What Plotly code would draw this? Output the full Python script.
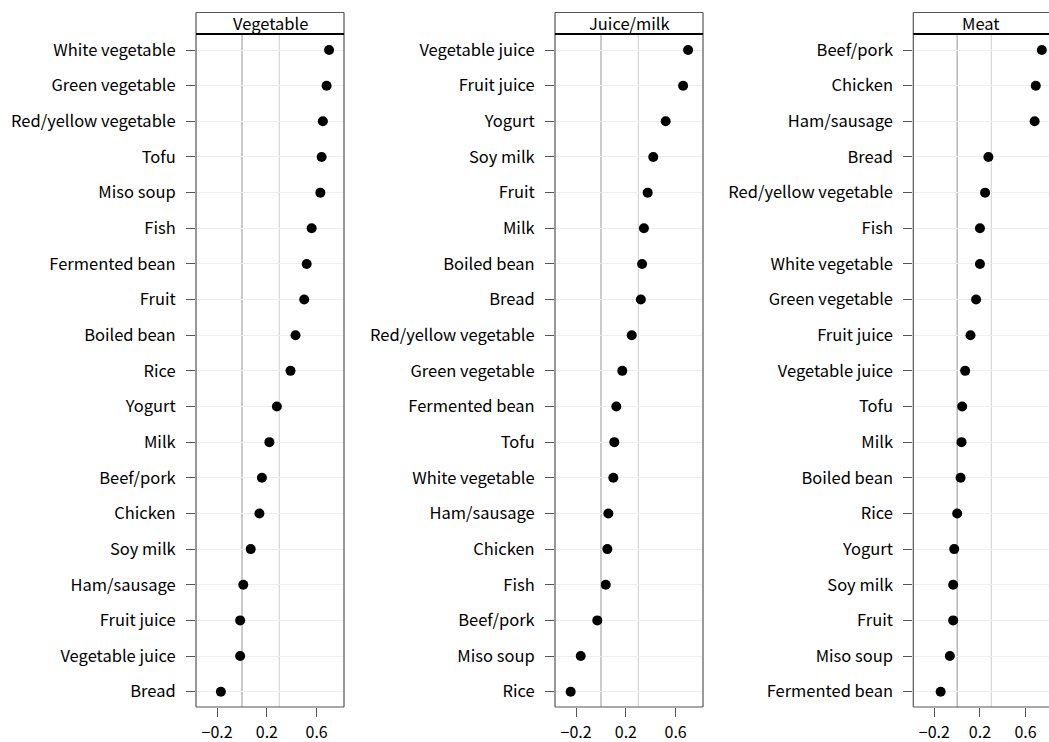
import plotly.graph_objects as go

# ---- data ----
veg_foods = ["White vegetable", "Green vegetable", "Red/yellow vegetable", "Tofu", "Miso soup",
             "Fish", "Fermented bean", "Fruit", "Boiled bean", "Rice", "Yogurt", "Milk",
             "Beef/pork", "Chicken", "Soy milk", "Ham/sausage", "Fruit juice",
             "Vegetable juice", "Bread"]
veg_values = [0.70, 0.68, 0.65, 0.64, 0.63, 0.56, 0.52, 0.50, 0.43, 0.39, 0.28, 0.22,
              0.16, 0.14, 0.07, 0.01, -0.015, -0.015, -0.17]

juice_foods = ["Vegetable juice", "Fruit juice", "Yogurt", "Soy milk", "Fruit", "Milk",
               "Boiled bean", "Bread", "Red/yellow vegetable", "Green vegetable",
               "Fermented bean", "Tofu", "White vegetable", "Ham/sausage", "Chicken",
               "Fish", "Beef/pork", "Miso soup", "Rice"]
juice_values = [0.70, 0.66, 0.52, 0.42, 0.375, 0.345, 0.33, 0.32, 0.247, 0.171,
                0.123, 0.107, 0.099, 0.059, 0.051, 0.038, -0.03, -0.163, -0.244]

meat_foods = ["Beef/pork", "Chicken", "Ham/sausage", "Bread", "Red/yellow vegetable",
              "Fish", "White vegetable", "Green vegetable", "Fruit juice",
              "Vegetable juice", "Tofu", "Milk", "Boiled bean", "Rice", "Yogurt",
              "Soy milk", "Fruit", "Miso soup", "Fermented bean"]
meat_values = [0.743, 0.69, 0.68, 0.274, 0.245, 0.20, 0.20, 0.166, 0.117, 0.07,
               0.044, 0.038, 0.03, 0.0, -0.026, -0.035, -0.035, -0.064, -0.145]

panel_titles = ["Vegetable", "Juice/milk", "Meat"]
x_tick_vals = [-0.2, 0.2, 0.6]
x_tick_text = ["\u22120.2", "0.2", "0.6"]
ref_lines = [0.0, 0.3]

panels = [(panel_titles[0], veg_foods, veg_values),
          (panel_titles[1], juice_foods, juice_values),
          (panel_titles[2], meat_foods, meat_values)]

# ---- layout ----
W, H = 1049, 742
domains = [(196 / W, 344 / W), (555 / W, 703 / W), (913.3 / W, 1.0)]
xranges = [[-0.37, 0.82], [-0.37, 0.82], [-0.385, 0.806]]
FONT = "Noto Sans CJK JP"
frame_col = "#555555"
strip_h = 21.5 / 673

fig = go.Figure()
shapes = []
annotations = []
for i, (title, foods, vals) in enumerate(panels):
    sfx = "" if i == 0 else str(i + 1)
    xa, ya = "x" + sfx, "y" + sfx
    fig.add_trace(go.Scatter(x=vals, y=foods, mode="markers",
                             marker=dict(color="black", size=10),
                             xaxis=xa, yaxis=ya, showlegend=False,
                             cliponaxis=False))
    n = len(foods)
    fig.layout["xaxis" + sfx] = dict(
        domain=list(domains[i]), range=xranges[i], anchor=ya,
        tickvals=x_tick_vals, ticktext=x_tick_text, showgrid=False, zeroline=False,
        ticks="outside", ticklen=9, tickcolor=frame_col, showline=False,
        ticklabelstandoff=2,
        tickfont=dict(family=FONT, size=16, color="black"))
    fig.layout["yaxis" + sfx] = dict(
        domain=[0, 1], anchor=xa, type="category", categoryarray=foods,
        range=[n - 1 + 0.43, -0.45], showgrid=True, gridcolor="#eeeeee",
        zeroline=False, ticks="outside", ticklen=9, tickcolor=frame_col,
        showline=False, ticklabelstandoff=7,
        tickfont=dict(family=FONT, size=16.5, color="black"))
    xd, yd = xa + " domain", ya + " domain"
    # reference lines
    for j, v in enumerate(ref_lines):
        shapes.append(dict(type="line", xref=xa, yref=yd, x0=v, x1=v, y0=0, y1=1,
                           line=dict(color="#a8a8a8" if j == 0 else "#d6d6d6", width=1.2),
                           layer="below"))
    # frame (left, bottom, top; right except cut-off last panel)
    sides = [(0, 0, 0, 1 + strip_h), (0, 0, 1, 0), (0, 1 + strip_h, 1, 1 + strip_h)]
    if i < 2:
        sides.append((1, 0, 1, 1 + strip_h))
    for (x0, y0, x1, y1) in sides:
        shapes.append(dict(type="line", xref=xd, yref=yd, x0=x0, y0=y0, x1=x1, y1=y1,
                           line=dict(color=frame_col, width=1.2)))
    # strip bottom thick line
    shapes.append(dict(type="line", xref=xd, yref=yd, x0=0, x1=1, y0=1, y1=1,
                       line=dict(color="black", width=2.2)))
    annotations.append(dict(text=title, xref=xd, yref=yd, x=0.5, y=1 + strip_h / 2,
                            xanchor="center", yanchor="middle", showarrow=False,
                            font=dict(family=FONT, size=16.5, color="black")))

fig.update_layout(width=W, height=H, margin=dict(l=0, r=0, t=34, b=35),
                  paper_bgcolor="white", plot_bgcolor="white",
                  shapes=shapes, annotations=annotations,
                  font=dict(family=FONT))
fig.write_html("out.html", config={"displayModeBar": False},
               post_script="document.body.style.margin='0';document.body.style.overflow='hidden';")
